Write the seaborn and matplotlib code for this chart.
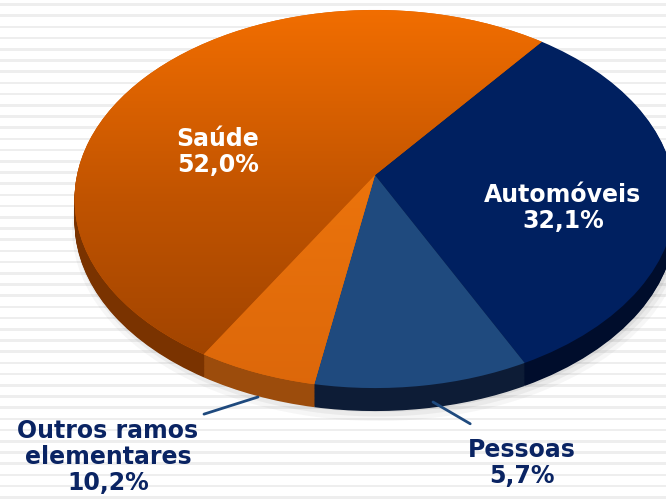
import numpy as np
import matplotlib
matplotlib.use("Agg")
import matplotlib.pyplot as plt
import seaborn as sns
from matplotlib.colors import LinearSegmentedColormap
from matplotlib.path import Path
from matplotlib.transforms import Transform, Affine2D

# slices as drawn, clockwise from the Saúde / Automóveis boundary
slices = ["Automóveis", "Pessoas", "Outros ramos elementares", "Saúde"]
sizes = [32.1, 10.2, 5.7, 52.0]
label_texts = ["Automóveis\n32,1%", "Pessoas\n5,7%",
               "Outros ramos\nelementares\n10,2%", "Saúde\n52,0%"]

top_colors = ["#002060", "#1f4a7e", "#e46c0a", "#d65e00"]
side_colors = ["#000d2c", "#0d1c36", "#9c4c0c", "#7a3300"]
navy = "#0a2463"

sns.set_theme(style="white")
plt.rcParams["font.family"] = ["DejaVu Sans"]

W, H = 666, 499
ox, oy = 375, 175      # pie apex, pixels
sx, sy = 298, 186      # scale of the tilted disc, pixels
tilt = 0.127           # perspective strength
depth = 23             # side wall height, pixels
start = 52


class Tilt(Transform):
    """Simple perspective: the far half of the disc looks smaller."""
    input_dims = output_dims = 2

    def __init__(self, k):
        super().__init__()
        self.k = k

    def transform_non_affine(self, v):
        v = np.asarray(v, dtype=float)
        w = 1 + self.k * v[:, 1]
        return np.column_stack([v[:, 0] / w, v[:, 1] / w])

    def transform_path_non_affine(self, path):
        return Path(self.transform_non_affine(path.vertices), path.codes)


def px(x, y):
    # pixel position -> data coords
    return (x - ox) / sx, (oy - y) / sy


def tilted(patches, dx=0.0, dy=0.0):
    tr = Tilt(tilt) + Affine2D().translate(dx, dy) + ax.transData
    for p in patches:
        p.set_transform(tr)


fig = plt.figure(figsize=(W / 100, H / 100), dpi=100)

# striped background
bg = fig.add_axes([0, 0, 1, 1], zorder=-1)
bg.set_xlim(0, W)
bg.set_ylim(H, 0)
bg.axis("off")
for y in np.arange(4.5, H, 11.2):
    bg.axhspan(y - 1.3, y + 1.3, color="#eeeeee", lw=0)

ax = fig.add_axes([0, 0, 1, 1])
ax.patch.set_alpha(0)

# soft shadow
for i, al in enumerate([0.05, 0.07, 0.09]):
    sh, _ = ax.pie(sizes, colors=["#555555"] * 4, startangle=start, counterclock=False,
                   radius=1.0 + 0.01 * (2 - i), wedgeprops=dict(linewidth=0, alpha=al))
    tilted(sh, 0.012, -(depth + 5 - 2 * i) / sy)

# side wall: stacked darker copies
for off in np.linspace(depth, 0, 30)[:-1]:
    sw, _ = ax.pie(sizes, colors=side_colors, startangle=start, counterclock=False,
                   radius=1, wedgeprops=dict(linewidth=0))
    tilted(sw, 0, -off / sy)

# top face
wedges, _ = ax.pie(sizes, colors=top_colors, startangle=start, counterclock=False,
                   radius=1, wedgeprops=dict(linewidth=0))
tilted(wedges)

x0, y1 = px(0, 0)
x1, y0 = px(W, H)

# gradient on the Saúde face
grad = np.linspace(0, 1, 256).reshape(-1, 1)
cmap = LinearSegmentedColormap.from_list("saude", ["#9a4100", "#c05300", "#f26e00"])
im = ax.imshow(grad, origin="lower", extent=(-1.1, 1.1, px(0, 395)[1], px(0, 8)[1]),
               cmap=cmap, aspect="auto", zorder=wedges[3].get_zorder() + 0.1)
im.set_clip_path(wedges[3])

cmap2 = LinearSegmentedColormap.from_list("outros", ["#dc670a", "#ec740c"])
im2 = ax.imshow(grad, origin="lower", extent=(-1.1, 1.1, px(0, 395)[1], px(0, 175)[1]),
                cmap=cmap2, aspect="auto", zorder=wedges[2].get_zorder() + 0.1)
im2.set_clip_path(wedges[2])

ax.set_xlim(x0, x1)
ax.set_ylim(y0, y1)
ax.set_aspect("auto")
ax.axis("off")

fs = 17
ls = 1.12
ax.text(*px(218, 152), label_texts[3], color="white", fontsize=fs,
        fontweight="bold", ha="center", va="center", linespacing=ls, zorder=10)
ax.text(*px(563, 208), label_texts[0], color="white", fontsize=fs,
        fontweight="bold", ha="center", va="center", linespacing=ls, zorder=10)

ax.annotate(label_texts[2], xy=px(258, 397), xytext=px(108, 457),
            color=navy, fontsize=fs, fontweight="bold", ha="center", va="center",
            linespacing=ls, zorder=10,
            arrowprops=dict(arrowstyle="-", color="#1f4a7e", lw=2,
                            shrinkA=0, shrinkB=0, relpos=(1.03, 1.06)))
ax.annotate(label_texts[1], xy=px(433, 402), xytext=px(522, 463),
            color=navy, fontsize=fs, fontweight="bold", ha="center", va="center",
            linespacing=ls, zorder=10,
            arrowprops=dict(arrowstyle="-", color="#1f4a7e", lw=2,
                            shrinkA=0, shrinkB=0, relpos=(0.02, 1.28)))

plt.savefig("out.png", dpi=100)
